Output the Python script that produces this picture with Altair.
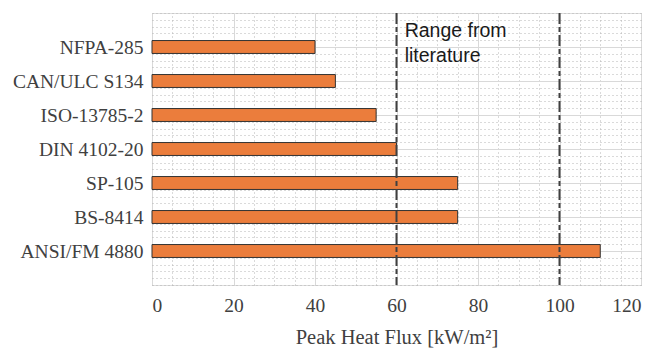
import altair as alt
import pandas as pd

standards = ["NFPA-285", "CAN/ULC S134", "ISO-13785-2", "DIN 4102-20", "SP-105", "BS-8414", "ANSI/FM 4880"]
peak_flux = [40, 45, 55, 60, 75, 75, 110]
positions = [1, 2, 3, 4, 5, 6, 7]
range_lines = [60, 100]
x_ticks = [0, 20, 40, 60, 80, 100, 120]
x_minor = [v * 5 for v in range(0, 25)]
y_minor = [round(v * 0.2, 1) for v in range(0, 41)]

half = 0.19
bars_df = pd.DataFrame({"name": standards, "flux": peak_flux, "pos": positions,
                        "lo": [p - half for p in positions], "hi": [p + half for p in positions]})

label_map = "{" + ",".join(f"'{p}':'{n}'" for p, n in zip(positions, standards)) + "}"

xscale = alt.Scale(domain=[0, 120], nice=False, zero=True)
yscale = alt.Scale(domain=[0, 8], reverse=True, nice=False, zero=False)

serif = "Liberation Serif"
txtcol = "#404040"

# minor grid layer
minor = alt.Chart(pd.DataFrame({"x": [0], "y": [0]})).mark_point(opacity=0).encode(
    x=alt.X("x:Q", scale=xscale, axis=alt.Axis(orient="bottom", values=x_minor, grid=True, gridColor="#b5b5b5",
                                                gridDash=[1, 3], gridWidth=1, labels=False, ticks=False,
                                                domain=False, title=None)),
    y=alt.Y("y:Q", scale=yscale, axis=alt.Axis(orient="left", values=y_minor, grid=True, gridColor="#b5b5b5",
                                                gridDash=[1, 3], gridWidth=1, labels=False, ticks=False,
                                                domain=False, title=None)),
)

bars = alt.Chart(bars_df).mark_bar(color="#EB7D3C", stroke="#333333", strokeWidth=1).encode(
    x=alt.X("flux:Q", scale=xscale,
            axis=alt.Axis(orient="bottom", values=x_ticks, grid=True, gridColor="#d9d9d9", gridWidth=1,
                          labelFont=serif, labelFontSize=19.5, labelColor=txtcol, labelPadding=11,
                          ticks=False, domain=False, title="Peak Heat Flux [kW/m²]",
                          titleFont=serif, titleFontSize=20.5, titleFontWeight="normal",
                          titleColor=txtcol, titlePadding=13)),
    x2=alt.datum(0),
    y=alt.Y("lo:Q", scale=yscale,
            axis=alt.Axis(orient="left", values=positions, grid=True, gridColor="#d9d9d9", gridWidth=1,
                          labelExpr=label_map + "[datum.value]",
                          labelFont=serif, labelFontSize=19.5, labelColor=txtcol, labelPadding=9,
                          ticks=False, domain=False, title=None)),
    y2="hi:Q",
)

vlines = alt.Chart(pd.DataFrame({"v": range_lines})).mark_rule(
    color="#404040", strokeWidth=2, strokeDash=[11, 3, 5, 3]
).encode(x=alt.X("v:Q", scale=xscale, axis=None))

note = alt.Chart(pd.DataFrame({"x": [62], "y": [0.715], "t": [["Range from", "literature"]]})).mark_text(
    align="left", baseline="alphabetic", font="Liberation Sans", fontSize=19.5, color="#1a1a1a", lineHeight=25
).encode(x=alt.X("x:Q", scale=xscale, axis=None), y=alt.Y("y:Q", scale=yscale, axis=None), text="t")

chart = alt.layer(minor, bars, vlines, note).resolve_axis(x="independent", y="independent").properties(
    width=489, height=272,
    autosize=alt.AutoSizeParams(type="none"),
    padding={"left": 152, "top": 13, "right": 16, "bottom": 64},
).configure_view(stroke="#404040", strokeWidth=1.2).configure(background="white")

chart.save("out.html", embed_options={"renderer": "svg", "actions": False})
